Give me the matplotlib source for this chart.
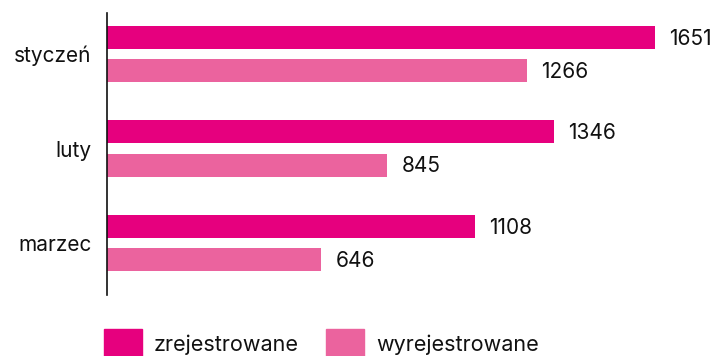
import matplotlib
matplotlib.use("Agg")
import matplotlib.pyplot as plt
import numpy as np
from matplotlib.patches import Patch

plt.rcParams['font.family'] = ['Inter', 'DejaVu Sans']

months = ["styczeń", "luty", "marzec"]
registered = [1651, 1346, 1108]
deregistered = [1266, 845, 646]
series_names = ["zrejestrowane", "wyrejestrowane"]
colors = ["#E6007E", "#EB639E"]

fig = plt.figure(figsize=(7.14, 3.56), dpi=100)
W, H = 714, 356
ax = fig.add_axes([107 / W, 1 - 295 / H, (W - 107) / W, 282 / H])

y = np.arange(len(months))
h = 0.243
off = 0.175
fs = 15
ax.barh(y - off, registered, height=h, color=colors[0])
ax.barh(y + off, deregistered, height=h, color=colors[1])

for yi, v in zip(y - off, registered):
    ax.text(v + 42, yi + 0.015, str(v), va="center", ha="left", fontsize=fs, color="#111111")
for yi, v in zip(y + off, deregistered):
    ax.text(v + 42, yi + 0.015, str(v), va="center", ha="left", fontsize=fs, color="#111111")

ax.set_xlim(0, (W - 107) / (548 / 1651))
ax.set_ylim(2.55, -0.434)
ax.set_yticks(y)
ax.set_yticklabels(months, fontsize=fs, color="#111111")
ax.tick_params(axis="y", length=0, pad=11)
ax.set_xticks([])
for s in ["top", "right", "bottom"]:
    ax.spines[s].set_visible(False)
ax.spines["left"].set_linewidth(1.2)
ax.spines["left"].set_color("#111111")

handles = [Patch(color=c, label=n) for c, n in zip(colors, series_names)]
fig.legend(handles=handles, loc="center left", bbox_to_anchor=(104 / W, 1 - 344 / H),
           ncol=2, frameon=False, fontsize=15.5, handlelength=1.77, handleheight=1.77,
           handletextpad=0.55, columnspacing=1.25, borderpad=0, borderaxespad=0,
           labelcolor="#111111")

fig.savefig("out.png", dpi=100)
